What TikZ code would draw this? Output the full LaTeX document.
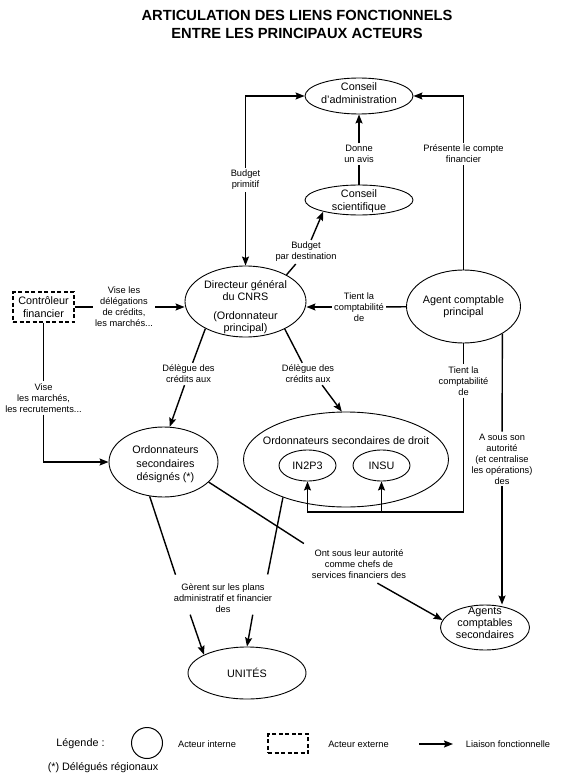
\documentclass[tikz,border=0pt]{standalone}
\usepackage{fontspec}
\setmainfont{Liberation Sans}
\usetikzlibrary{shapes.geometric,arrows.meta,calc}
\begin{document}
\begin{tikzpicture}[x=1pt,y=-1pt,
  ell/.style={ellipse,draw,line width=0.9pt,inner sep=0pt},
  ntxt/.style={font=\fontsize{10.8}{12.5}\selectfont,align=center,inner sep=0pt},
  lbl/.style={font=\fontsize{9.3}{11}\selectfont,align=center,inner sep=2pt},
  conn/.style={line width=1.4pt},
  arr/.style={conn,-{Stealth[length=9pt,width=7pt,inset=1.5pt]}},
  dbox/.style={draw,dash pattern=on 4pt off 2.5pt,line width=1.2pt,inner sep=1pt}
]
\path[use as bounding box] (0,0) rectangle (566,783);

% title
\node[font=\bfseries\fontsize{14.7}{18}\selectfont,anchor=base] (t1) at (297,21) {ARTICULATION DES LIENS FONCTIONNELS};
\node[font=\bfseries\fontsize{14.7}{18}\selectfont,anchor=base] (t2) at (297,39) {ENTRE LES PRINCIPAUX ACTEURS};

% actors
\node[ell,minimum width=108pt,minimum height=36pt,label={[ntxt,yshift=3pt]center:{Conseil\\d'administration}}] (ca) at (359,96) {};
\node[ell,minimum width=108pt,minimum height=30pt,label={[ntxt,yshift=-1pt]center:{Conseil\\scientifique}}] (cs) at (359,200) {};
\node[ell,minimum width=121pt,minimum height=71pt,label={[ntxt,yshift=-5.5pt]center:{Directeur général\\du CNRS\\[6pt](Ordonnateur\\principal)}}] (dg) at (245.5,301.5) {};
\node[ell,minimum width=114pt,minimum height=73pt,label={[ntxt]center:{Agent comptable\\principal}}] (acp) at (463.5,306.5) {};
\node[ell,minimum width=109pt,minimum height=70pt,label={[ntxt,font=\fontsize{10.8}{13.5}\selectfont,xshift=2pt,yshift=-2.5pt]center:{Ordonnateurs\\secondaires\\désignés (*)}}] (osd) at (163.5,462) {};
\node[ell,minimum width=205pt,minimum height=95pt,label={[ntxt,yshift=18.5pt]center:{Ordonnateurs secondaires de droit}}] (osdr) at (346,459.5) {};
\node[ell,minimum width=57pt,minimum height=31pt,label={[ntxt]center:{IN2P3}}] (in2p3) at (307.5,465.5) {};
\node[ell,minimum width=57pt,minimum height=31pt,label={[ntxt]center:{INSU}}] (insu) at (381.5,465.5) {};
\node[ell,minimum width=89pt,minimum height=45pt,label={[ntxt,font=\fontsize{10.8}{12}\selectfont,yshift=4.5pt]center:{Agents\\comptables\\secondaires}}] (acs) at (485,627.5) {};
\node[ell,minimum width=118pt,minimum height=52pt,label={[ntxt]center:{UNITÉS}}] (unites) at (247,673) {};
\node[dbox,minimum width=61pt,minimum height=30pt,font=\fontsize{10.8}{12.5}\selectfont,align=center] (cf) at (43.5,307) {Contrôleur\\financier};

% labels
\node[lbl] (lbp) at (245.5,180) {Budget\\primitif};
\node[lbl] (lpc) at (463.5,154) {Présente le compte\\financier};
\node[lbl] (lda) at (359,154) {Donne\\un avis};
\node[lbl] (lbd) at (306,252) {Budget\\par destination};
\node[lbl] (lvd) at (124,307) {Vise les\\délégations\\de crédits,\\les marchés...};
\node[lbl] (ltc1) at (359,307) {Tient la\\comptabilité\\de};
\node[lbl] (ltc2) at (463.5,381) {Tient la\\comptabilité\\de};
\node[lbl] (lde1) at (188.5,374) {Délègue des\\crédits aux};
\node[lbl] (lde2) at (308,374) {Délègue des\\crédits aux};
\node[lbl] (lvm) at (43.5,398) {Vise\\les marchés,\\les recrutements...};
\node[lbl] (las) at (502,459) {A sous son\\autorité\\(et centralise\\les opérations)\\des};
\node[lbl] (lont) at (359,564) {Ont sous leur autorité\\comme chefs de\\services financiers des};
\node[lbl] (lge) at (223,598) {Gèrent sur les plans\\administratif et financier\\des};

% connectors
\draw[arr] (lbp) |- (ca);
\draw[arr] (lbp) -- (dg);
\draw[conn] (acp) -- (lpc);
\draw[arr] (lpc) |- (ca);
\draw[conn] (cs) -- (lda);
\draw[arr] (lda) -- (ca);
\draw[conn] (dg.33) -- (lbd);
\draw[arr] (lbd) -- (cs.198);
\draw[conn] (cf) -- (lvd);
\draw[arr] (lvd) -- (dg.west |- lvd);
\draw[conn] (acp) -- (ltc1);
\draw[arr] (ltc1) -- (dg.east |- ltc1);
\coordinate (bus) at (463.5,512);
\draw[arr] (ltc2) -- (bus) -- (in2p3 |- bus) -- (in2p3);
\draw[arr] (insu |- bus) -- (insu);
\draw[conn] (acp) -- (ltc2);
\draw[conn] (acp.-35) -- (las);
\draw[arr] (las) -- (las |- acs.north);
\draw[conn] (dg.214) -- (lde1);
\draw[arr] (lde1) -- (osd.80);
\draw[conn] (dg.-35) -- (lde2);
\draw[arr] ($(lde2.south)!.5!(lde2.south east)$) -- (osdr.95);
\draw[conn] (cf) -- (lvm);
\draw[arr] (lvm) |- (osd);
\draw[conn,shorten >=7pt] (osd.248) -- ($(lge.north west)+(6,0)$);
\draw[conn,shorten >=7pt] (osdr.211) -- ($(lge.north east)+(-8,0)$);
\draw[arr] ($(lge.south west)!.18!(lge.south east)$) -- (unites.157);
\draw[arr] ($(lge.south west)!.79!(lge.south east)$) -- (unites.north);
\draw[conn,shorten >=7pt] (osd.-24) -- (lont.north west);
\draw[arr,shorten <=5pt] ($(lont.south)+(14,0)$) -- (acs.170);

% legend
\node[font=\fontsize{10.8}{13}\selectfont] (leg) at (80.5,744) {Légende :};
\node[circle,draw,line width=1pt,minimum size=31pt,inner sep=0pt] (legc) at (147,743) {};
\node[lbl] (legi) at (207,744) {Acteur interne};
\node[dbox,minimum width=40pt,minimum height=19pt] (legd) at (288,743.5) {};
\node[lbl] (lege) at (358.5,744) {Acteur externe};
\coordinate (la1) at (419,744);
\coordinate (la2) at (453,744);
\draw[arr] (la1) -- (la2);
\node[lbl] (legl) at (508,744) {Liaison fonctionnelle};
\node[font=\fontsize{10.8}{13}\selectfont] (foot) at (103,768) {(*) Délégués régionaux};
\end{tikzpicture}
\end{document}
